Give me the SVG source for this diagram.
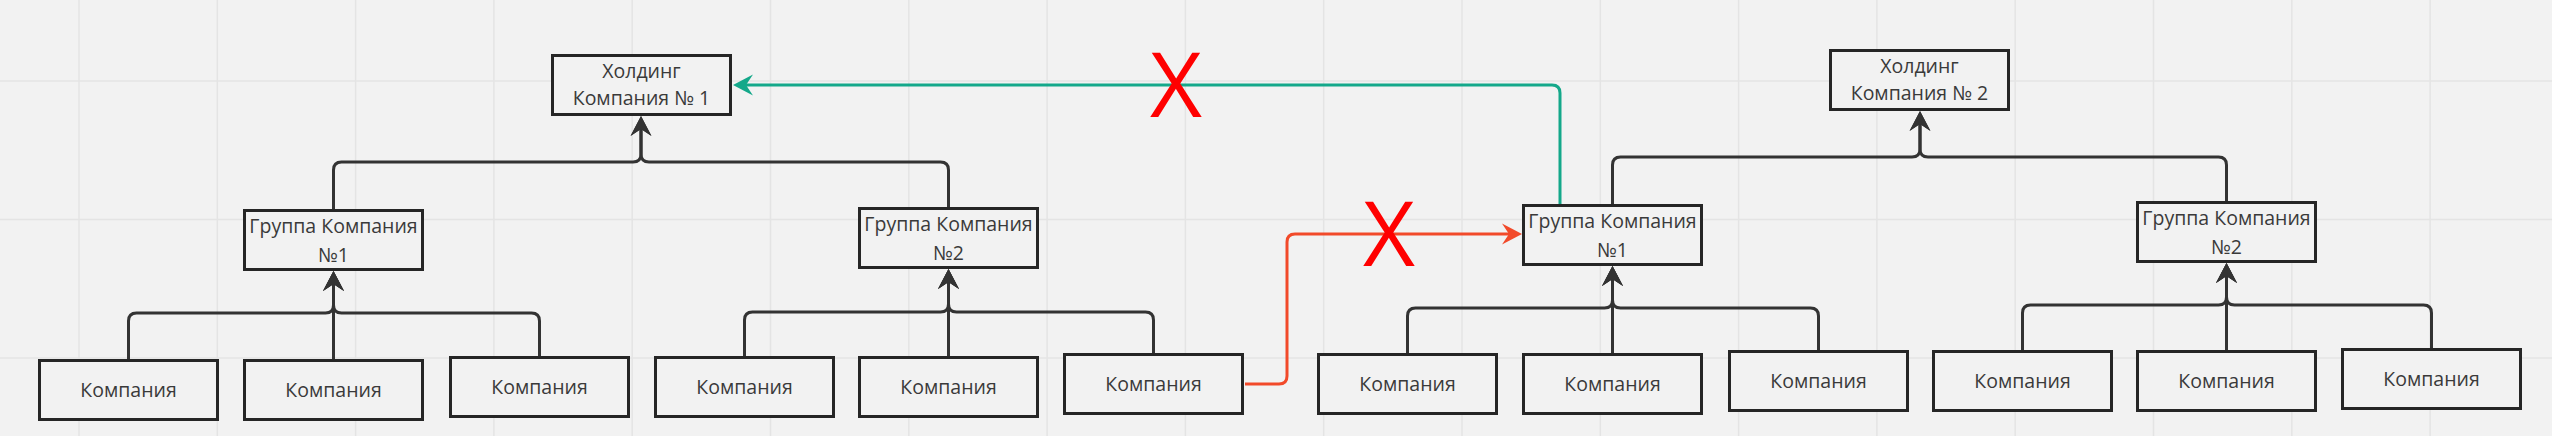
<svg xmlns="http://www.w3.org/2000/svg" width="2552" height="436" viewBox="0 0 2552 436">
<style>
.bg{fill:#f2f2f2}
.grid line{stroke:#e4e4e4;stroke-width:1.5}
.box{fill:#f2f2f2;stroke:#262626;stroke-width:3}
.t{font-family:"Open Sans","Noto Sans","Liberation Sans",sans-serif;fill:#3a3a3a;text-anchor:middle}
.tc{font-size:19.5px}
.tg{font-size:19.5px}
.th{font-size:19.5px}
.c{fill:none;stroke:#333;stroke-width:3}
.green{fill:none;stroke:#14a88a;stroke-width:3}
.red{fill:none;stroke:#f24a2a;stroke-width:3}
.x{font-family:"Open Sans","Noto Sans","Liberation Sans",sans-serif;font-size:90px;fill:#ff0000;text-anchor:middle}
</style>
<defs>
<marker id="aDark" viewBox="-21 -11 22 22" refX="-12" refY="0" markerWidth="22" markerHeight="22" markerUnits="userSpaceOnUse" orient="auto"><path d="M0,0 L-20,-10.5 L-13,0 L-20,10.5 Z" fill="#333"/></marker>
<marker id="aGreen" viewBox="-21 -11 22 22" refX="-12" refY="0" markerWidth="22" markerHeight="22" markerUnits="userSpaceOnUse" orient="auto"><path d="M0,0 L-20,-10.5 L-13,0 L-20,10.5 Z" fill="#14a88a"/></marker>
<marker id="aRed" viewBox="-21 -11 22 22" refX="-12" refY="0" markerWidth="22" markerHeight="22" markerUnits="userSpaceOnUse" orient="auto"><path d="M0,0 L-20,-10.5 L-13,0 L-20,10.5 Z" fill="#f24a2a"/></marker>
</defs>
<rect class="bg" x="0" y="0" width="2552" height="436"/>
<g class="grid">
<line x1="79" y1="0" x2="79" y2="436"/>
<line x1="217.3" y1="0" x2="217.3" y2="436"/>
<line x1="355.6" y1="0" x2="355.6" y2="436"/>
<line x1="493.9" y1="0" x2="493.9" y2="436"/>
<line x1="632.2" y1="0" x2="632.2" y2="436"/>
<line x1="770.5" y1="0" x2="770.5" y2="436"/>
<line x1="908.8" y1="0" x2="908.8" y2="436"/>
<line x1="1047.1" y1="0" x2="1047.1" y2="436"/>
<line x1="1185.4" y1="0" x2="1185.4" y2="436"/>
<line x1="1323.7" y1="0" x2="1323.7" y2="436"/>
<line x1="1462" y1="0" x2="1462" y2="436"/>
<line x1="1600.3" y1="0" x2="1600.3" y2="436"/>
<line x1="1738.6" y1="0" x2="1738.6" y2="436"/>
<line x1="1876.9" y1="0" x2="1876.9" y2="436"/>
<line x1="2015.2" y1="0" x2="2015.2" y2="436"/>
<line x1="2153.5" y1="0" x2="2153.5" y2="436"/>
<line x1="2291.8" y1="0" x2="2291.8" y2="436"/>
<line x1="2430.1" y1="0" x2="2430.1" y2="436"/>
<line x1="0" y1="81" x2="2552" y2="81"/>
<line x1="0" y1="219.5" x2="2552" y2="219.5"/>
<line x1="0" y1="358" x2="2552" y2="358"/>
</g>
<g id="connectors">
<path class="c" marker-end="url(#aDark)" d="M333.5,209 V170 Q333.5,162 341.5,162 H633 Q641,162 641,154 V128"/>
<path class="c" marker-end="url(#aDark)" d="M948.5,207 V170 Q948.5,162 940.5,162 H649 Q641,162 641,154 V128"/>
<path class="c" marker-end="url(#aDark)" d="M1612.5,204 V165 Q1612.5,157 1620.5,157 H1912 Q1920,157 1920,149 V123"/>
<path class="c" marker-end="url(#aDark)" d="M2226.5,201 V165 Q2226.5,157 2218.5,157 H1928 Q1920,157 1920,149 V123"/>
<path class="c" marker-end="url(#aDark)" d="M128.5,359 V321 Q128.5,313 136.5,313 H325.5 Q333.5,313 333.5,305 V283"/>
<path class="c" marker-end="url(#aDark)" d="M333.5,359 V283"/>
<path class="c" marker-end="url(#aDark)" d="M539.5,356 V321 Q539.5,313 531.5,313 H341.5 Q333.5,313 333.5,305 V283"/>
<path class="c" marker-end="url(#aDark)" d="M744.5,356 V320 Q744.5,312 752.5,312 H940.5 Q948.5,312 948.5,304 V281"/>
<path class="c" marker-end="url(#aDark)" d="M948.5,356 V281"/>
<path class="c" marker-end="url(#aDark)" d="M1153.5,353 V320 Q1153.5,312 1145.5,312 H956.5 Q948.5,312 948.5,304 V281"/>
<path class="c" marker-end="url(#aDark)" d="M1407.5,353 V316 Q1407.5,308 1415.5,308 H1604.5 Q1612.5,308 1612.5,300 V278"/>
<path class="c" marker-end="url(#aDark)" d="M1612.5,353 V278"/>
<path class="c" marker-end="url(#aDark)" d="M1818.5,350 V316 Q1818.5,308 1810.5,308 H1620.5 Q1612.5,308 1612.5,300 V278"/>
<path class="c" marker-end="url(#aDark)" d="M2022.5,350 V313 Q2022.5,305 2030.5,305 H2218.5 Q2226.5,305 2226.5,297 V275"/>
<path class="c" marker-end="url(#aDark)" d="M2226.5,350 V275"/>
<path class="c" marker-end="url(#aDark)" d="M2431.5,348 V313 Q2431.5,305 2423.5,305 H2234.5 Q2226.5,305 2226.5,297 V275"/>
<path class="green" marker-end="url(#aGreen)" d="M1560,204 V93 Q1560,85 1552,85 H745"/>
<path class="red" marker-end="url(#aRed)" d="M1245,384 H1279 Q1287,384 1287,376 V242 Q1287,234 1295,234 H1510"/>
</g>
<g id="holding1"><rect class="box" x="552.5" y="55.5" width="178" height="59"/><text class="t th" x="641.5" y="78">Холдинг</text><text class="t th" x="641.5" y="105">Компания № 1</text></g>
<g id="holding2"><rect class="box" x="1830.5" y="50.5" width="178" height="59"/><text class="t th" x="1919.5" y="73">Холдинг</text><text class="t th" x="1919.5" y="100">Компания № 2</text></g>
<g id="group1-1"><rect class="box" x="244.5" y="210.5" width="178" height="59"/><text class="t tg" x="333.5" y="233">Группа Компания</text><text class="t tg" x="333.5" y="262">№1</text></g>
<g id="group1-2"><rect class="box" x="859.5" y="208.5" width="178" height="59"/><text class="t tg" x="948.5" y="231">Группа Компания</text><text class="t tg" x="948.5" y="260">№2</text></g>
<g id="group2-1"><rect class="box" x="1523.5" y="205.5" width="178" height="59"/><text class="t tg" x="1612.5" y="228">Группа Компания</text><text class="t tg" x="1612.5" y="257">№1</text></g>
<g id="group2-2"><rect class="box" x="2137.5" y="202.5" width="178" height="59"/><text class="t tg" x="2226.5" y="225">Группа Компания</text><text class="t tg" x="2226.5" y="254">№2</text></g>
<g id="company1"><rect class="box" x="39.5" y="360.5" width="178" height="59"/><text class="t tc" x="128.5" y="397">Компания</text></g>
<g id="company2"><rect class="box" x="244.5" y="360.5" width="178" height="59"/><text class="t tc" x="333.5" y="397">Компания</text></g>
<g id="company3"><rect class="box" x="450.5" y="357.5" width="178" height="59"/><text class="t tc" x="539.5" y="394">Компания</text></g>
<g id="company4"><rect class="box" x="655.5" y="357.5" width="178" height="59"/><text class="t tc" x="744.5" y="394">Компания</text></g>
<g id="company5"><rect class="box" x="859.5" y="357.5" width="178" height="59"/><text class="t tc" x="948.5" y="394">Компания</text></g>
<g id="company6"><rect class="box" x="1064.5" y="354.5" width="178" height="59"/><text class="t tc" x="1153.5" y="391">Компания</text></g>
<g id="company7"><rect class="box" x="1318.5" y="354.5" width="178" height="59"/><text class="t tc" x="1407.5" y="391">Компания</text></g>
<g id="company8"><rect class="box" x="1523.5" y="354.5" width="178" height="59"/><text class="t tc" x="1612.5" y="391">Компания</text></g>
<g id="company9"><rect class="box" x="1729.5" y="351.5" width="178" height="59"/><text class="t tc" x="1818.5" y="388">Компания</text></g>
<g id="company10"><rect class="box" x="1933.5" y="351.5" width="178" height="59"/><text class="t tc" x="2022.5" y="388">Компания</text></g>
<g id="company11"><rect class="box" x="2137.5" y="351.5" width="178" height="59"/><text class="t tc" x="2226.5" y="388">Компания</text></g>
<g id="company12"><rect class="box" x="2342.5" y="349.5" width="178" height="59"/><text class="t tc" x="2431.5" y="386">Компания</text></g>
<g id="cross-marks"><text class="x" x="1176" y="117">X</text><text class="x" x="1389" y="266">X</text></g>
</svg>
